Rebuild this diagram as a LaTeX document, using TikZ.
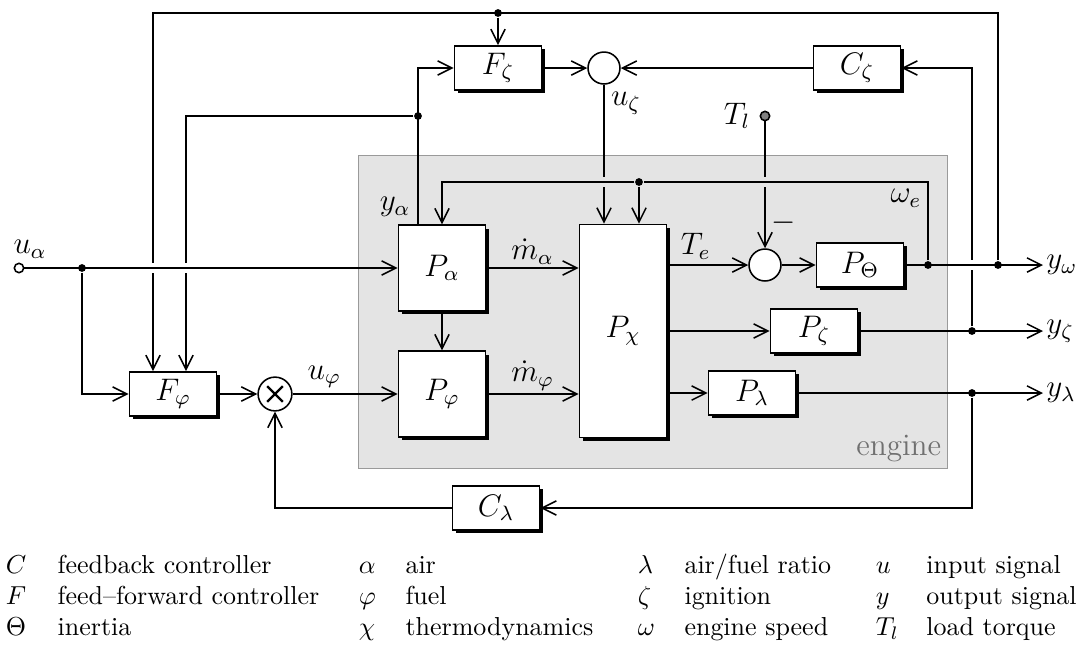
\documentclass[tikz,border=0pt]{standalone}
\usepackage{tikz}
\usetikzlibrary{arrows.meta,positioning,shadows}
\definecolor{Engine}{HTML}{E4E4E4}
\definecolor{Frame}{HTML}{9A9A9A}
\definecolor{Label}{HTML}{707070}

\begin{document}
\begin{tikzpicture}[
  x=0.385pt,y=-0.385pt,
  line width=0.6pt,
  font=\large,
  block/.style={draw,fill=white,minimum width=33.5pt,minimum height=17pt,inner sep=0pt,
    general shadow={fill=black,shadow xshift=1.3pt,shadow yshift=-1.3pt}},
  plant/.style={block,minimum height=33pt},
  sum/.style={circle,draw,fill=white,minimum size=12.3pt,inner sep=0pt},
  dot/.style={circle,fill,inner sep=0pt,minimum size=3pt},
  port/.style={circle,draw,inner sep=0pt,minimum size=3.6pt},
  arrow/.style={-{Straight Barb[length=5.5pt,width=5.5pt]}},
  legend/.style={anchor=base west,inner sep=0pt,font=\normalsize}
]
\useasboundingbox (0,0) rectangle (1090,646);
\node[draw=Frame,fill=Engine,line width=0.5pt,anchor=north west,minimum width=226.8pt,minimum height=120.5pt,inner sep=0pt] (engine) at (358,155) {};
\node[anchor=south east,text=Label,inner sep=2.5pt] (enginelabel) at (engine.south east) {engine};

\node[block] (Fz) at (498,68) {$F_\zeta$};
\node[sum] (s1) at (604,68) {};
\node[block] (Cz) at (857,68) {$C_\zeta$};
\node[plant] (Pa) at (442,268) {$P_\alpha$};
\node[plant] (Pf) at (442,394) {$P_\varphi$};
\node[block,minimum height=82pt] (Pc) at (623,331) {$P_\chi$};
\node[sum] (s2) at (765,265) {};
\node[block] (PT) at (860,265) {$P_\Theta$};
\node[block] (Pz) at (814,331) {$P_\zeta$};
\node[block] (Pl) at (752,393) {$P_\lambda$};
\node[block] (Ff) at (173,394) {$F_\varphi$};
\node[sum,minimum size=13pt] (mul) at (275,394) {};
\draw[line width=0.9pt] ([shift={(-3pt,-3pt)}]mul.center) -- ([shift={(3pt,3pt)}]mul.center)
  ([shift={(-3pt,3pt)}]mul.center) -- ([shift={(3pt,-3pt)}]mul.center);
\node[block] (Cl) at (496,508) {$C_\lambda$};

\node[port,fill=white] (ua) at (19,268) {};
\node[port,fill=gray] (Tl) at (765,116) {};
\node[dot] (d1) at (82,268) {};
\node[dot] (dtop) at (498,13) {};
\node[dot] (dya) at (418,116) {};
\node[dot] (dwe) at (639,182) {};
\node[dot] (dw1) at (928,265) {};
\node[dot] (dw2) at (998,265) {};
\node[dot] (dz) at (972,331) {};
\node[dot] (dl) at (972,393) {};
\coordinate (tl) at (153,13);
\coordinate (tr) at (998,13);
\coordinate (fl) at (186,116);
\coordinate (we) at (928,182);
\coordinate (yw) at (1043,265);
\coordinate (yz) at (1043,331);
\coordinate (yl) at (1043,393);

\node (lua) at (30,249) {$u_\alpha$};
\node (lya) at (395,207) {$y_\alpha$};
\node (luz) at (626,103) {$u_\zeta$};
\node (lTl) at (737,116) {$T_l$};
\node (lwe) at (906,198) {$\omega_e$};
\node (lminus) at (784,223) {$-$};

\draw[arrow] (ua) -- (Pa);
\draw[arrow] (d1) |- (Ff);
\draw[arrow] (Ff) -- (mul);
\draw[arrow] (mul) -- node[above,pos=0.3,inner sep=2pt]{$u_\varphi$} (Pf);
\draw[arrow] (Pa) -- node[above,inner sep=1pt]{$\dot m_\alpha$} (Pc.west |- Pa);
\draw[arrow] (Pf) -- node[above,inner sep=1pt]{$\dot m_\varphi$} (Pc.west |- Pf);
\draw[arrow] (Pa) -- (Pf);
\draw[arrow] (Pc.east |- s2) -- node[above,pos=0.35,inner sep=2pt]{$T_e$} (s2);
\draw[arrow] (s2) -- (PT);
\draw[arrow] (PT) -- (yw) node[right,inner sep=1pt]{$y_\omega$};
\draw[arrow] (Pc.east |- Pz) -- (Pz);
\draw[arrow] (Pz) -- (yz) node[right,inner sep=1pt]{$y_\zeta$};
\draw[arrow] (Pc.east |- Pl) -- (Pl);
\draw[arrow] (Pl) -- (yl) node[right,inner sep=1pt]{$y_\lambda$};

\draw (dw1) -- (we) -- (dwe);
\draw[arrow] (dwe) -- (dwe |- Pc.north);
\draw[arrow] (dwe) -| (Pa);
\draw (s1) -- ([yshift=2pt]s1 |- dwe);
\draw[arrow] ([yshift=-2pt]s1 |- dwe) -- (s1 |- Pc.north);
\draw (Tl) -- ([yshift=2pt]Tl |- dwe);
\draw[arrow] ([yshift=-2pt]Tl |- dwe) -- (s2);

\draw (dw2) -- (tr) -- (tl) -- ([yshift=2pt]tl |- ua);
\draw[arrow] ([yshift=-2pt]tl |- ua) -- (tl |- Ff.north);
\draw[arrow] (dtop) -- (Fz);
\draw (dya) -- (fl) -- ([yshift=2pt]fl |- ua);
\draw[arrow] ([yshift=-2pt]fl |- ua) -- (fl |- Ff.north);
\draw[arrow] (Pa.north -| dya) |- (Fz);
\draw[arrow] (Fz) -- (s1);
\draw[arrow] (Cz) -- (s1);
\draw (dz) -- ([yshift=-2pt]dz |- dw2);
\draw[arrow] ([yshift=2pt]dz |- dw2) |- (Cz);
\draw[arrow] (dl) |- (Cl);
\draw[arrow] (Cl) -| (mul);

\node[legend] (leg1) at (5,573) {\begin{tabular}[t]{@{}p{20pt}@{}l@{}}
  $C$ & feedback controller\\ $F$ & feed--forward controller\\ $\Theta$ & inertia\end{tabular}};
\node[legend] (leg2) at (358,573) {\begin{tabular}[t]{@{}p{18pt}@{}l@{}}
  $\alpha$ & air\\ $\varphi$ & fuel\\ $\chi$ & thermodynamics\end{tabular}};
\node[legend] (leg3) at (637,573) {\begin{tabular}[t]{@{}p{18pt}@{}l@{}}
  $\lambda$ & air/fuel ratio\\ $\zeta$ & ignition\\ $\omega$ & engine speed\end{tabular}};
\node[legend] (leg4) at (875,573) {\begin{tabular}[t]{@{}p{19.5pt}@{}l@{}}
  $u$ & input signal\\ $y$ & output signal\\ $T_l$ & load torque\end{tabular}};
\end{tikzpicture}
\end{document}
